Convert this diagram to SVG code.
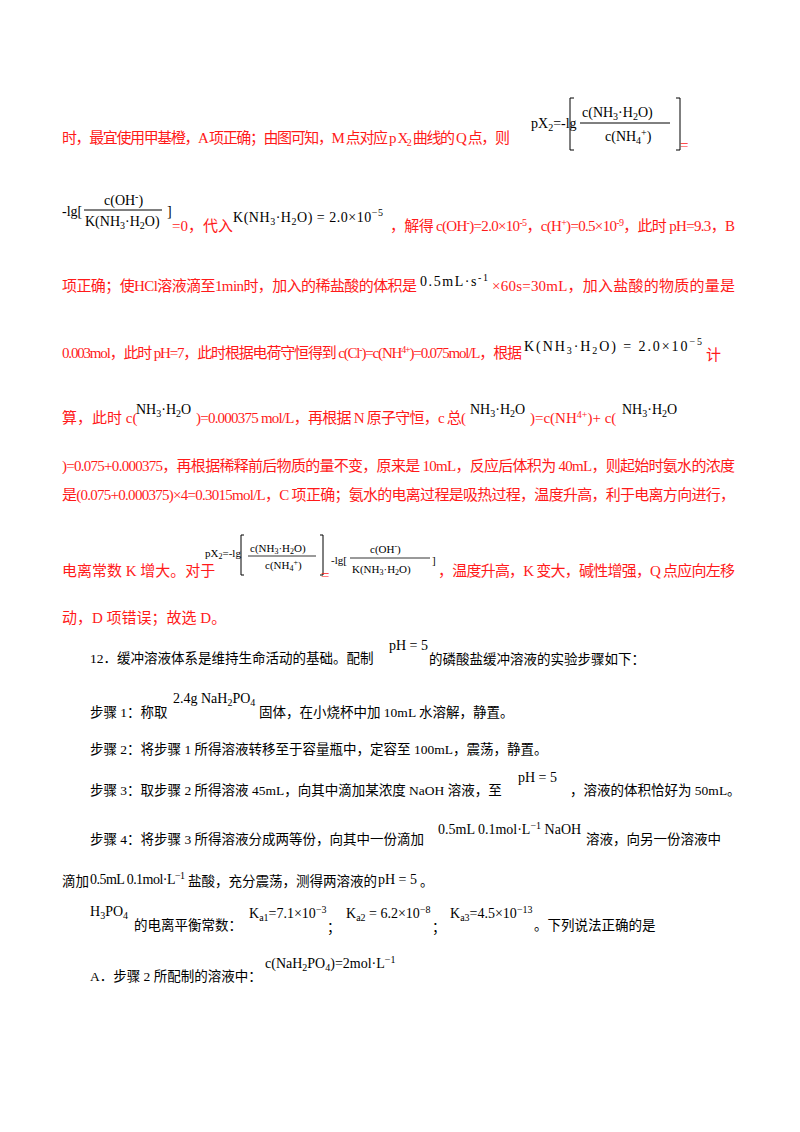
<svg xmlns="http://www.w3.org/2000/svg" width="800" height="1132" viewBox="0 0 800 1132">
<style>
text{font-family:"Liberation Serif","Noto Sans CJK SC",serif;font-size:15px;fill:#000}
.r{fill:#ff1a1a}
.b{font-size:13.5px}
.m{font-size:14px}
.s{font-size:10px}
.br{fill:none;stroke:#000;stroke-width:1}
</style>
<rect width="800" height="1132" fill="#fff"/>
<!-- line 1 -->
<text class="r" x="62" y="143" textLength="448">时，最宜使用甲基橙，A 项正确；由图可知，M 点对应 p X<tspan class="s" dy="3">2</tspan><tspan dy="-3"> 曲线的 Q 点，则</tspan></text>
<g>
<text class="m" x="531" y="128">pX<tspan class="s" dy="3">2</tspan><tspan dy="-3">=-lg</tspan></text>
<path class="br" d="M574 98 H570 V150 H574 M676 98 H680 V150 H676"/>
<text class="m" x="582" y="117">c(NH<tspan class="s" dy="3">3</tspan><tspan dy="-3">·H</tspan><tspan class="s" dy="3">2</tspan><tspan dy="-3">O)</tspan></text>
<line x1="580" y1="123" x2="670" y2="123" stroke="#000"/>
<text class="m" x="605" y="141">c(NH<tspan class="s" dy="3">4</tspan><tspan class="s" dy="-8">+</tspan><tspan dy="5">)</tspan></text>
<text class="r" x="680" y="150">=</text>
</g>
<!-- line 2 -->
<text class="m" x="62" y="216">-lg[</text>
<text class="m" x="104" y="205">c(OH<tspan class="s" dy="-5">-</tspan><tspan dy="5">)</tspan></text>
<line x1="84" y1="210" x2="162" y2="210" stroke="#000"/>
<text class="m" x="85" y="226">K(NH<tspan class="s" dy="3">3</tspan><tspan dy="-3">·H</tspan><tspan class="s" dy="3">2</tspan><tspan dy="-3">O)</tspan></text>
<text class="m" x="167" y="216">]</text>
<text class="r" x="172" y="231">=0，代入</text>
<text class="m" x="233" y="222" textLength="150">K(NH<tspan class="s" dy="3">3</tspan><tspan dy="-3">·H</tspan><tspan class="s" dy="3">2</tspan><tspan dy="-3">O) = 2.0×10</tspan><tspan class="s" dy="-6">−5</tspan></text>
<text class="r" x="390" y="231" textLength="345">，解得 c(OH<tspan class="s" dy="-5">-</tspan><tspan dy="5">)=2.0×10</tspan><tspan class="s" dy="-5">-5</tspan><tspan dy="5">，c(H</tspan><tspan class="s" dy="-5">+</tspan><tspan dy="5">)=0.5×10</tspan><tspan class="s" dy="-5">-9</tspan><tspan dy="5">，此时 pH=9.3，B</tspan></text>
<!-- line 3 -->
<text class="r" x="62" y="291" textLength="355">项正确；使HCl溶液滴至1min时，加入的稀盐酸的体积是</text>
<text class="m" x="420" y="286" textLength="68">0.5mL·s<tspan class="s" dy="-5">-1</tspan></text>
<text class="r" x="492" y="291" textLength="243">×60s=30mL，加入盐酸的物质的量是</text>
<!-- line 4 -->
<text class="r" x="62" y="358" textLength="460">0.003mol，此时 pH=7，此时根据电荷守恒得到 c(Cl<tspan class="s" dy="-5">-</tspan><tspan dy="5">)=c(NH</tspan><tspan class="s" dy="-5">4</tspan><tspan class="s">+</tspan><tspan dy="5">)=0.075mol/L，根据</tspan></text>
<text class="m" x="524" y="351" textLength="178">K(NH<tspan class="s" dy="3">3</tspan><tspan dy="-3">·H</tspan><tspan class="s" dy="3">2</tspan><tspan dy="-3">O) = 2.0×10</tspan><tspan class="s" dy="-6">−5</tspan></text>
<text class="r" x="706" y="360">计</text>
<!-- line 5 -->
<text class="r" x="62" y="423">算，此时 c(</text>
<text class="m" x="136" y="414">NH<tspan class="s" dy="3">3</tspan><tspan dy="-3">·H</tspan><tspan class="s" dy="3">2</tspan><tspan dy="-3">O</tspan></text>
<text class="r" x="196" y="423" textLength="270">)=0.000375 mol/L，再根据 N 原子守恒，c 总(</text>
<text class="m" x="470" y="414">NH<tspan class="s" dy="3">3</tspan><tspan dy="-3">·H</tspan><tspan class="s" dy="3">2</tspan><tspan dy="-3">O</tspan></text>
<text class="r" x="530" y="423">)=c(NH<tspan class="s" dy="-5">4</tspan><tspan class="s">+</tspan><tspan dy="5">)+ c(</tspan></text>
<text class="m" x="622" y="414">NH<tspan class="s" dy="3">3</tspan><tspan dy="-3">·H</tspan><tspan class="s" dy="3">2</tspan><tspan dy="-3">O</tspan></text>
<!-- line 6,7 -->
<text class="r" x="62" y="471" textLength="673">)=0.075+0.000375，再根据稀释前后物质的量不变，原来是 10mL，反应后体积为 40mL，则起始时氨水的浓度</text>
<text class="r" x="62" y="500" textLength="673">是(0.075+0.000375)×4=0.3015mol/L，C 项正确；氨水的电离过程是吸热过程，温度升高，利于电离方向进行，</text>
<!-- line 8 -->
<text class="r" x="62" y="576">电离常数 K 增大。对于</text>
<g>
<text x="205" y="557" style="font-size:11px">pX<tspan style="font-size:8px" dy="2">2</tspan><tspan dy="-2">=-lg</tspan></text>
<path class="br" d="M244 535 H241 V575 H244 M320 535 H323 V575 H320"/>
<text x="250" y="552" style="font-size:11px">c(NH<tspan style="font-size:8px" dy="2">3</tspan><tspan dy="-2">·H</tspan><tspan style="font-size:8px" dy="2">2</tspan><tspan dy="-2">O)</tspan></text>
<line x1="248" y1="556" x2="316" y2="556" stroke="#000" stroke-width="0.8"/>
<text x="265" y="569" style="font-size:11px">c(NH<tspan style="font-size:8px" dy="2">4</tspan><tspan style="font-size:8px" dy="-6">+</tspan><tspan dy="4">)</tspan></text>
<text class="r" x="321" y="580">=</text>
<text x="331" y="564" style="font-size:11px">-lg[</text>
<text x="370" y="553" style="font-size:11px">c(OH<tspan style="font-size:8px" dy="-4">-</tspan><tspan dy="4">)</tspan></text>
<line x1="350" y1="558" x2="430" y2="558" stroke="#000" stroke-width="0.8"/>
<text x="352" y="573" style="font-size:11px">K(NH<tspan style="font-size:8px" dy="2">3</tspan><tspan dy="-2">·H</tspan><tspan style="font-size:8px" dy="2">2</tspan><tspan dy="-2">O)</tspan></text>
<text x="432" y="564" style="font-size:11px">]</text>
</g>
<text class="r" x="438" y="576" textLength="297">，温度升高，K 变大，碱性增强，Q 点应向左移</text>
<!-- line 9 -->
<text class="r" x="62" y="623">动，D 项错误；故选 D。</text>
<!-- line 10 -->
<text class="b" x="90" y="663">12．缓冲溶液体系是维持生命活动的基础。配制</text>
<text class="m" x="389" y="650">pH = 5</text>
<text class="b" x="429" y="664">的磷酸盐缓冲溶液的实验步骤如下：</text>
<!-- line 11 -->
<text class="b" x="90" y="717">步骤 1：称取</text>
<text class="m" x="173" y="703">2.4g NaH<tspan class="s" dy="3">2</tspan><tspan dy="-3">PO</tspan><tspan class="s" dy="3">4</tspan></text>
<text class="b" x="259" y="717">固体，在小烧杯中加 10mL 水溶解，静置。</text>
<!-- line 12 -->
<text class="b" x="90" y="754">步骤 2：将步骤 1 所得溶液转移至于容量瓶中，定容至 100mL，震荡，静置。</text>
<!-- line 13 -->
<text class="b" x="90" y="795">步骤 3：取步骤 2 所得溶液 45mL，向其中滴加某浓度 NaOH 溶液，至</text>
<text class="m" x="518" y="782">pH = 5</text>
<text class="b" x="570" y="795">，溶液的体积恰好为 50mL。</text>
<!-- line 14 -->
<text class="b" x="90" y="844">步骤 4：将步骤 3 所得溶液分成两等份，向其中一份滴加</text>
<text class="m" x="438" y="834">0.5mL 0.1mol·L<tspan class="s" dy="-5">−1</tspan><tspan dy="5"> NaOH</tspan></text>
<text class="b" x="586" y="844">溶液，向另一份溶液中</text>
<!-- line 15 -->
<text class="b" x="62" y="886">滴加</text>
<text class="m" x="90" y="884" textLength="95">0.5mL 0.1mol·L<tspan class="s" dy="-5">−1</tspan></text>
<text class="b" x="188" y="886">盐酸，充分震荡，测得两溶液的</text>
<text class="m" x="378" y="884">pH = 5</text>
<text class="b" x="420" y="886">。</text>
<!-- line 16 -->
<text class="m" x="90" y="916">H<tspan class="s" dy="3">3</tspan><tspan dy="-3">PO</tspan><tspan class="s" dy="3">4</tspan></text>
<text class="b" x="134" y="930">的电离平衡常数：</text>
<text class="m" x="249" y="918">K<tspan class="s" dy="3">a1</tspan><tspan dy="-3">=7.1×10</tspan><tspan class="s" dy="-5">−3</tspan></text>
<text class="b" x="327" y="932">；</text>
<text class="m" x="346" y="918">K<tspan class="s" dy="3">a2</tspan><tspan dy="-3"> = 6.2×10</tspan><tspan class="s" dy="-5">−8</tspan></text>
<text class="b" x="432" y="932">；</text>
<text class="m" x="450" y="918">K<tspan class="s" dy="3">a3</tspan><tspan dy="-3">=4.5×10</tspan><tspan class="s" dy="-5">−13</tspan></text>
<text class="b" x="534" y="930">。下列说法正确的是</text>
<!-- line 17 -->
<text class="b" x="90" y="981">A．步骤 2 所配制的溶液中：</text>
<text class="m" x="265" y="968">c(NaH<tspan class="s" dy="3">2</tspan><tspan dy="-3">PO</tspan><tspan class="s" dy="3">4</tspan><tspan dy="-3">)=2mol·L</tspan><tspan class="s" dy="-5">−1</tspan></text>
</svg>
